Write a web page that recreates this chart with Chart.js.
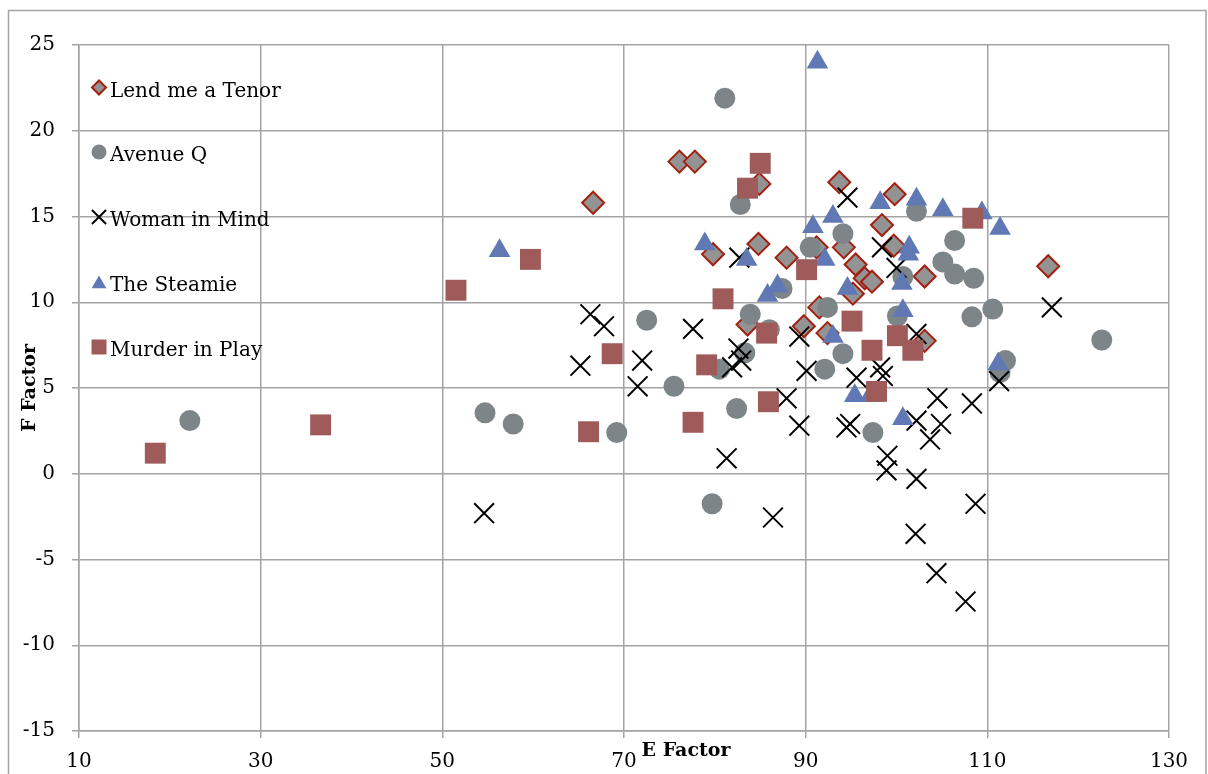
<!DOCTYPE html>
<html>
<head>
<meta charset="utf-8">
<script src="https://cdn.jsdelivr.net/npm/chart.js@4/dist/chart.umd.min.js"></script>
<style>
  body { margin: 0; background: #fff; }
  #wrap { width: 1208px; height: 774px; }
</style>
</head>
<body>
<div id="wrap"><canvas id="scatter" width="1208" height="774"></canvas></div>
<script>
const seriesNames = ["Lend me a Tenor", "Avenue Q", "Woman in Mind", "The Steamie", "Murder in Play"]

const eTenor = [66.6, 76.1, 77.8, 84.9, 93.7, 99.8, 98.4, 99.7, 94.2, 95.5, 96.5, 97.3, 103.1, 95.2, 116.7, 89.8, 91.5, 92.4, 103.1, 84.8, 79.8, 87.9, 83.6, 91.2]
const fTenor = [15.8, 18.2, 18.2, 16.9, 17.0, 16.3, 14.5, 13.3, 13.2, 12.2, 11.4, 11.2, 11.5, 10.5, 12.1, 8.6, 9.7, 8.2, 7.75, 13.4, 12.8, 12.6, 8.7, 13.2]

const eAvenue = [22.2, 54.7, 57.8, 69.2, 72.5, 75.5, 81.1, 79.7, 82.8, 83.9, 86.0, 83.3, 80.5, 82.4, 92.4, 94.1, 92.1, 87.4, 90.5, 94.1, 102.2, 106.4, 105.1, 106.4, 108.5, 100.7, 110.6, 108.3, 122.6, 100.1, 112.0, 111.4, 97.4]
const fAvenue = [3.1, 3.55, 2.9, 2.4, 8.95, 5.1, 21.9, -1.75, 15.7, 9.3, 8.4, 7.05, 6.1, 3.8, 9.7, 7.0, 6.1, 10.8, 13.2, 14.0, 15.3, 13.6, 12.35, 11.65, 11.4, 11.5, 9.6, 9.15, 7.8, 9.2, 6.6, 5.9, 2.4]

const eWoman = [54.6, 65.2, 66.3, 67.8, 72.0, 71.5, 77.6, 81.3, 86.4, 87.9, 89.3, 82.6, 82.9, 81.9, 82.7, 89.3, 90.1, 94.5, 94.9, 95.6, 98.4, 100.0, 94.6, 102.2, 117.1, 111.3, 98.2, 98.5, 104.5, 108.3, 102.2, 104.9, 103.7, 99.0, 98.9, 102.2, 108.7, 102.1, 104.4, 107.6]
const fWoman = [-2.3, 6.3, 9.3, 8.6, 6.6, 5.1, 8.45, 0.9, -2.55, 4.4, 2.8, 7.3, 6.6, 6.2, 12.6, 8.0, 6.0, 2.7, 2.9, 5.6, 13.2, 12.0, 16.1, 8.15, 9.7, 5.4, 6.2, 5.7, 4.4, 4.1, 3.1, 2.9, 2.0, 1.05, 0.2, -0.3, -1.75, -3.5, -5.8, -7.45]

const eSteamie = [56.3, 91.3, 78.9, 83.5, 85.8, 86.9, 90.8, 93.0, 92.1, 94.6, 98.2, 102.2, 105.1, 109.4, 111.4, 101.4, 101.3, 100.6, 100.7, 93.0, 111.2, 100.7, 95.4, 97.1]
const fSteamie = [13.0, 24.0, 13.4, 12.5, 10.4, 10.95, 14.4, 15.0, 12.5, 10.8, 15.8, 16.0, 15.4, 15.2, 14.3, 13.2, 12.8, 11.1, 9.5, 8.0, 6.4, 3.2, 4.55, 4.55]

const eMurder = [18.4, 36.6, 51.5, 59.7, 66.1, 68.7, 77.6, 79.1, 80.9, 85.0, 83.6, 85.7, 85.9, 95.1, 90.1, 108.4, 100.1, 97.3, 101.8, 97.8]
const fMurder = [1.2, 2.85, 10.7, 12.5, 2.45, 7.0, 3.0, 6.35, 10.2, 18.1, 16.65, 8.2, 4.2, 8.9, 11.9, 14.9, 8.05, 7.2, 7.2, 4.8]

const xTicks = [10, 30, 50, 70, 90, 110, 130]
const yTicks = [25, 20, 15, 10, 5, 0, -5, -10, -15]

const gridColor = "#a3a3a3"
const tickFont = { family: "DejaVu Serif", size: 20 }

function pairs(xs, ys){
    return xs.map((x, i) => ({ x: x, y: ys[i] }))
}

// marker look of each series, also used by the legend
const styles = [
    { pointStyle: "rectRot", radius: 11, legendRadius: 7, bg: "#939393", border: "#a3200f", bw: 2 },
    { pointStyle: "circle", radius: 10.5, legendRadius: 7.5, bg: "#7d8589", border: "#7d8589", bw: 0 },
    { pointStyle: "crossRot", radius: 14, legendRadius: 10, bg: "#000", border: "#000", bw: 2 },
    { pointStyle: "triangle", radius: 12.5, legendRadius: 8.5, bg: "#6079b5", border: "#6079b5", bw: 0 },
    { pointStyle: "rect", radius: 14.8, legendRadius: 10.6, bg: "#9e5b5a", border: "#9e5b5a", bw: 0 }
]

const allData = [
    pairs(eTenor, fTenor),
    pairs(eAvenue, fAvenue),
    pairs(eWoman, fWoman),
    pairs(eSteamie, fSteamie),
    pairs(eMurder, fMurder)
]

const datasets = seriesNames.map((name, i) => ({
    label: name,
    data: allData[i],
    order: 5 - i,
    pointStyle: styles[i].pointStyle,
    pointRadius: styles[i].radius,
    pointHoverRadius: styles[i].radius,
    backgroundColor: styles[i].bg,
    borderColor: styles[i].border,
    pointBorderWidth: styles[i].bw,
    showLine: false
}))

// outer frame, legend inside the plot and the two axis titles
const extras = {
    id: "extras",
    beforeDraw(chart){
        const ctx = chart.ctx
        ctx.save()
        ctx.strokeStyle = gridColor
        ctx.lineWidth = 1.5
        ctx.strokeRect(8.5, 10.5, 1197.5, 800)
        ctx.restore()
    },
    afterDraw(chart){
        const ctx = chart.ctx
        ctx.save()
        const legendY = [87.5, 152, 217, 282, 347]
        seriesNames.forEach((name, i) => {
            const s = styles[i]
            let y = legendY[i]
            if (s.pointStyle === "triangle") y += 2
            ctx.fillStyle = s.bg
            ctx.strokeStyle = s.border
            ctx.lineWidth = s.bw
            Chart.helpers.drawPoint(ctx, { pointStyle: s.pointStyle, radius: s.legendRadius, borderWidth: s.bw, rotation: 0 }, 99, y)
            ctx.fillStyle = "#000"
            ctx.font = "20px 'DejaVu Serif'"
            ctx.textAlign = "left"
            ctx.textBaseline = "alphabetic"
            ctx.fillText(name, 110, legendY[i] + 9)
        })

        ctx.font = "bold 19px 'DejaVu Serif'"
        ctx.textAlign = "center"
        ctx.textBaseline = "middle"
        ctx.fillText("E Factor", 686, 751)

        ctx.translate(30, 388)
        ctx.rotate(-Math.PI / 2)
        ctx.fillText("F Factor", 0, 0)
        ctx.restore()
    }
}

const ctx = document.getElementById("scatter").getContext("2d")

new Chart(ctx, {
    type: "scatter",
    data: { datasets: datasets },
    options: {
        responsive: false,
        animation: false,
        layout: { padding: { left: 0, right: 39, top: 45, bottom: 0 } },
        plugins: {
            legend: { display: false },
            tooltip: { enabled: false }
        },
        scales: {
            x: {
                type: "linear",
                min: 10,
                max: 130,
                afterBuildTicks: axis => { axis.ticks = xTicks.map(v => ({ value: v })) },
                afterFit: axis => { axis.height = 43 },
                grid: { color: gridColor, lineWidth: 1.5, tickLength: 7 },
                border: { color: gridColor, width: 1.5 },
                ticks: { color: "#000", font: tickFont, padding: 12, maxRotation: 0 }
            },
            y: {
                type: "linear",
                min: -15,
                max: 25,
                afterBuildTicks: axis => { axis.ticks = yTicks.slice().reverse().map(v => ({ value: v })) },
                afterFit: axis => { axis.width = 79 },
                grid: { color: gridColor, lineWidth: 1.5, tickLength: 7 },
                border: { color: gridColor, width: 1.5 },
                ticks: { color: "#000", font: tickFont, padding: 17 }
            }
        }
    },
    plugins: [extras]
})
</script>
</body>
</html>
